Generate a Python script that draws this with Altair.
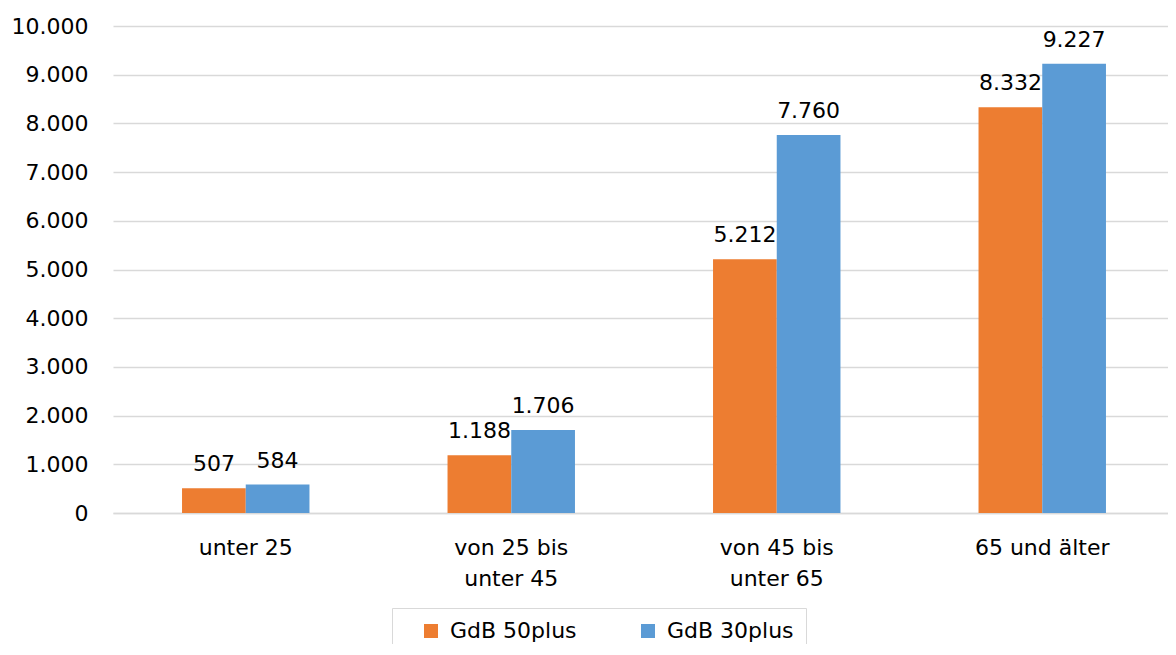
import altair as alt
import pandas as pd

categories = ["unter 25", "von 25 bis\nunter 45", "von 45 bis\nunter 65", "65 und älter"]
series = ["GdB 50plus", "GdB 30plus"]
gdb50 = [507, 1188, 5212, 8332]
gdb30 = [584, 1706, 7760, 9227]
colors = ["#ED7D31", "#5B9BD5"]
y_ticks = [0, 1000, 2000, 3000, 4000, 5000, 6000, 7000, 8000, 9000, 10000]

rows = []
for c, a, b in zip(categories, gdb50, gdb30):
    rows.append({"cat": c, "series": series[0], "value": a})
    rows.append({"cat": c, "series": series[1], "value": b})
df = pd.DataFrame(rows)

FONT = "DejaVu Sans"
FS = 22

base = alt.Chart(df).transform_calculate(
    label="replace(format(datum.value, ','), ',', '.')"
).encode(
    x=alt.X(
        "cat:N",
        sort=categories,
        scale=alt.Scale(paddingInner=0.52, paddingOuter=0.26, range=[0, 1062]),
        axis=alt.Axis(
            title=None,
            labelAngle=0,
            labelExpr="split(datum.label, '\\n')",
            labelLineHeight=31,
            labelPadding=24,
            ticks=False,
            domainColor="#d9d9d9",
            domainWidth=1.5,
            labelFontSize=FS,
            labelColor="#000000",
            labelFont=FONT,
        ),
    ),
    xOffset=alt.XOffset("series:N", sort=series),
)

bars = base.mark_bar().encode(
    y=alt.Y(
        "value:Q",
        scale=alt.Scale(domain=[0, 10000], nice=False),
        axis=alt.Axis(
            title=None,
            values=y_ticks,
            domain=False,
            ticks=False,
            gridColor="#d9d9d9",
            gridWidth=1.5,
            labelPadding=25,
            labelFontSize=FS,
            labelColor="#000000",
            labelFont=FONT,
            labelExpr="replace(format(datum.value, ','), ',', '.')",
        ),
    ),
    color=alt.Color(
        "series:N",
        sort=series,
        scale=alt.Scale(domain=series, range=colors),
        legend=alt.Legend(
            title=None,
            orient="none",
            legendX=279,
            legendY=582,
            direction="horizontal",
            strokeColor="#d9d9d9",
            padding=12,
            symbolType="square",
            symbolSize=196,
            symbolStrokeWidth=0,
            symbolOffset=16,
            labelFontSize=FS,
            labelFont=FONT,
            labelColor="#000000",
            columnPadding=44,
            labelOffset=8,
        ),
    ),
)

labels = base.mark_text(baseline="bottom", dy=-12, fontSize=FS, font=FONT, color="#000000").encode(
    y=alt.Y("value:Q"),
    text=alt.Text("label:N"),
)

chart = alt.layer(bars, labels).properties(
    width=1054,
    height=487,
    autosize=alt.AutoSizeParams(type="none"),
    padding={"left": 105, "top": 18, "right": 1, "bottom": 131},
).configure(font=FONT).configure_view(stroke=None)

chart.save("out.html", embed_options={"renderer": "svg", "actions": False})
